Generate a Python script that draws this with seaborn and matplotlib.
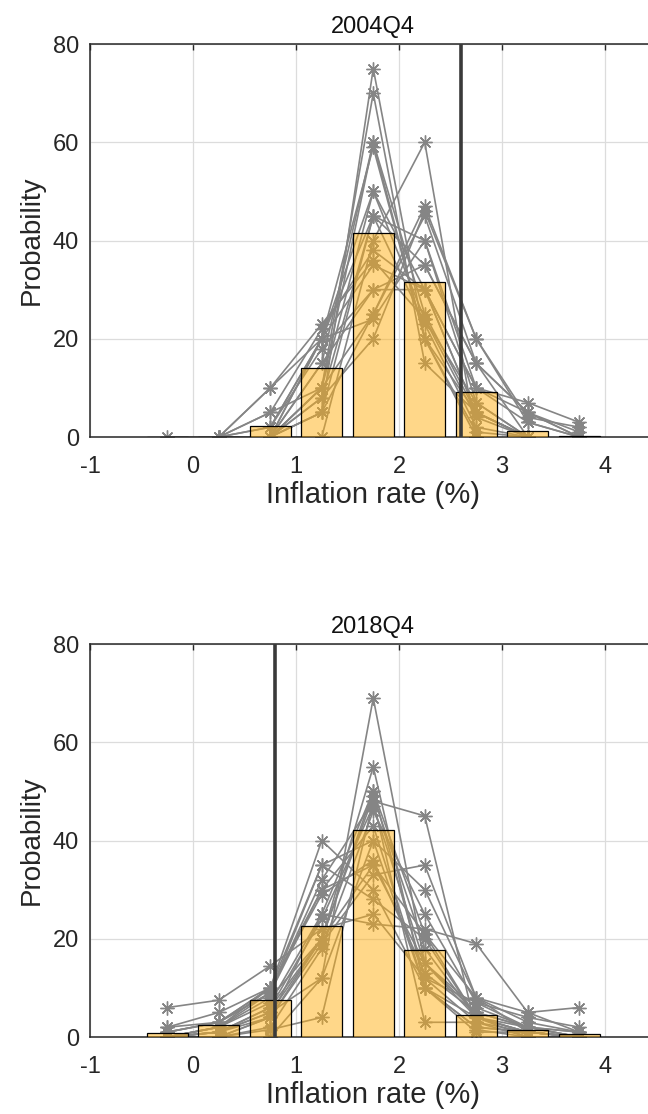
import matplotlib
matplotlib.use("Agg")
import matplotlib.pyplot as plt
import seaborn as sns
import pandas as pd
import numpy as np

N = None
bins = [-0.25, 0.25, 0.75, 1.25, 1.75, 2.25, 2.75, 3.25, 3.75]
titles = ["2004Q4", "2018Q4"]
realized = [2.6, 0.8]
xticks = [-1, 0, 1, 2, 3, 4]
yticks = [0, 20, 40, 60, 80]

agg_2004 = [0, 0, 2.2, 14.0, 41.6, 31.6, 9.2, 1.2, 0.2]
agg_2018 = [0.75, 2.4, 7.5, 22.7, 42.1, 17.8, 4.5, 1.5, 0.6]

ind_2004 = [
    [N, N, 0, 5, 75, 20, 0, N, N],
    [N, N, 0, 10, 70, 15, 5, 0, N],
    [N, 0, 0, 10, 60, 25, 5, 0, N],
    [N, N, 0, 15, 60, 20, 5, 0, N],
    [N, 0, 2, 20, 50, 24, 4, 0, N],
    [N, N, 0, 8, 45, 40, 7, 0, N],
    [N, N, 0, 0, 40, 60, 0, N, N],
    [N, 0, 5, 22, 38, 30, 5, 0, N],
    [N, 0, 10, 23, 36, 24, 7, 0, N],
    [N, N, 2, 20, 35, 30, 10, 3, 0],
    [N, N, 0, 15, 30, 35, 15, 5, 0],
    [N, N, 0, 10, 25, 45, 15, 5, 0],
    [N, N, 0, 5, 25, 47, 20, 3, 0],
    [0, 0, 2, 18, 30, 30, 10, 7, 3],
    [N, N, 0, 8, 20, 46, 20, 4, 2],
    [N, 0, 5, 10, 50, 30, 5, 0, N],
    [N, 0, 0, 20, 24, 40, 10, 5, 1],
    [N, N, 0, 5, 45, 35, 15, 0, N],
    [N, N, 0, 20, 59, 20, 1, 0, N],
    [N, 0, 10, 20, 45, 23, 2, 0, N],
]

ind_2018 = [
    [6, 7.5, 14.5, 22, 25, 12, 7, 4, 2],
    [2, 5, 10, 40, 30, 10, 2, 1, 0],
    [1, 3, 9, 35, 40, 10, 1, 1, 0],
    [0, 2, 7, 25, 50, 12, 3, 1, 0],
    [N, N, 0, 12, 69, 15, 4, 0, N],
    [0, 2, 8, 20, 55, 10, 4, 1, 0],
    [0, 0, 1.5, 4, 48, 45, 1.5, 0, N],
    [1, 3, 10, 30, 43, 10, 2, 1, 0],
    [0, 1, 5, 20, 35, 21, 8, 5, 6],
    [0, 1, 4, 25, 23, 22, 19, 5, 1],
    [0, 2, 9, 30, 35, 15, 6, 2, 1],
    [0, 1, 6, 24, 47, 15, 5, 2, 0],
    [0, 0, 4, 20, 50, 21, 4, 1, 0],
    [0, 1, 5, 12, 40, 30, 8, 3, 1],
    [0, 2, 10, 35, 28, 20, 4, 1, 0],
    [0, 1, 6, 20, 49, 18, 4, 2, 0],
    [1, 3, 10, 29, 36, 13, 5, 2, 1],
    [N, 0, 2, 18, 46, 25, 7, 2, 0],
    [0, 0, 4, 19, 33, 35, 8, 1, 0],
    [2, 3, 9, 32, 48, 3, 3, 0, 0],
]

sns.set_style("white")
plt.rcParams["font.family"] = ["Liberation Sans", "DejaVu Sans"]

fig = plt.figure(figsize=(6.48, 11.14), dpi=100)
positions = [[0.139, 0.6077, 0.874, 0.3528], [0.139, 0.0691, 0.874, 0.3528]]

aggs = [agg_2004, agg_2018]
inds = [ind_2004, ind_2018]

for k in range(2):
    ax = fig.add_axes(positions[k])
    rows = []
    for i, vals in enumerate(inds[k]):
        for b, v in zip(bins, vals):
            if v is not None:
                rows.append({"f": i, "bin": b, "prob": v})
    df = pd.DataFrame(rows)
    sns.lineplot(data=df, x="bin", y="prob", units="f", estimator=None,
                 color="#858585", linewidth=1.2, marker=(8, 2, 0),
                 markersize=10, markeredgecolor="#858585", markeredgewidth=1.0,
                 sort=False, ax=ax, zorder=2, legend=False)
    bdf = pd.DataFrame({"bin": bins, "prob": aggs[k]})
    sns.barplot(data=bdf, x="bin", y="prob", native_scale=True, width=0.8,
                errorbar=None, saturation=1, color="#FFB014",
                facecolor=(1.0, 0.69, 0.08, 0.5), edgecolor="black",
                linewidth=0.9, ax=ax, zorder=3)
    ax.axvline(realized[k], color="#3a3a3a", linewidth=2.6, zorder=4)

    ax.set_xlim(-1, 4.5)
    ax.set_ylim(0, 80)
    ax.set_xticks(xticks)
    ax.set_yticks(yticks)
    ax.set_xticklabels([str(t) for t in xticks])
    ax.set_yticklabels([str(t) for t in yticks])
    ax.grid(True, color="#dcdcdc", linewidth=0.9)
    ax.set_axisbelow(True)
    ax.tick_params(direction="in", length=4, width=1, color="#262626",
                   top=True, right=True, labelsize=17,
                   labelcolor="#262626")
    ax.tick_params(axis="x", pad=14)
    ax.tick_params(axis="y", pad=8)
    for s in ax.spines.values():
        s.set_color("#262626")
        s.set_linewidth(1.1)
    ax.set_title(titles[k], fontsize=17, pad=8, color="#111111")
    ax.set_xlabel("Inflation rate (%)", fontsize=21, color="#262626", labelpad=2)
    ax.set_ylabel("Probability", fontsize=20, color="#262626", labelpad=6)

fig.savefig("out.png", dpi=100)
